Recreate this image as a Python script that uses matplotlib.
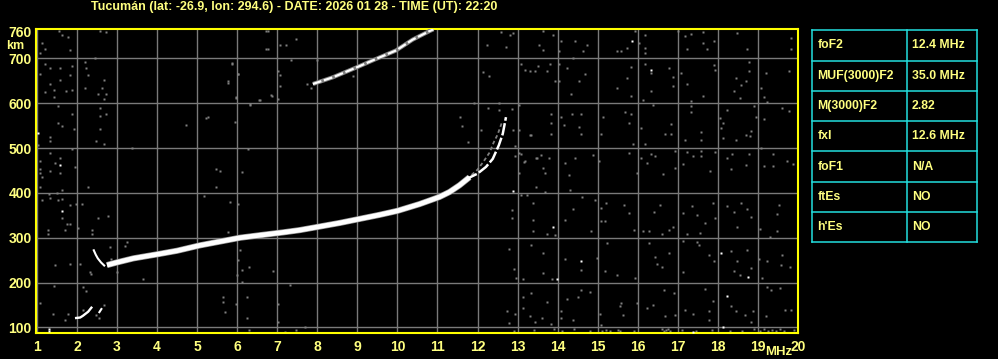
import matplotlib
matplotlib.use("Agg")
import matplotlib.pyplot as plt

# ---------------- data ----------------
title = "Tucumán (lat: -26.9, lon: 294.6) - DATE: 2026 01 28 - TIME (UT): 22:20"
x_ticks = list(range(1, 21))
y_ticks = [100, 200, 300, 400, 500, 600, 700, 760]

# F2 trace (white)
f2_f = [2.75, 3.0, 3.41, 4.0, 4.5, 5.07, 5.6, 6.07, 6.6, 7.15, 7.56, 8.0, 8.56, 9.0, 9.55, 10.0, 10.55, 11.05, 11.3, 11.55, 11.8]
f2_h = [239, 245, 254, 263, 271, 283, 292, 300, 306, 312, 317, 324, 333, 341, 351, 360, 375, 391, 402, 417, 435]
cusp_f = [11.7, 12.0, 12.21, 12.38, 12.53, 12.63, 12.71]
cusp_h = [430, 443, 458, 476, 506, 532, 569]
# extraordinary trace (grey)
xtr_f = [11.85, 12.0, 12.15, 12.3, 12.4, 12.5, 12.6]
xtr_h = [440, 452, 470, 490, 512, 530, 555]
# hook at start of F trace
hook_f = [2.42, 2.47, 2.52, 2.6, 2.68]
hook_h = [272, 262, 254, 245, 238]
# E-layer traces
e_f = [1.98, 2.08, 2.15, 2.28, 2.36]
e_h = [121, 122, 126, 135, 144]
e2_f = [2.56, 2.61]
e2_h = [134, 141]
# second hop trace
hop2_f = [7.89, 8.39, 8.98, 9.47, 9.97, 10.38, 10.8, 10.9]
hop2_h = [643, 658, 680, 699, 718, 742, 761, 765]

# noise specks (grey)
noise_f = [12.88, 13.63, 13.88, 13.53, 13.63, 14.08, 14.44, 14.73, 14.63, 14.38, 14.03, 15.48, 15.58, 15.73, 15.94,
           16.18, 16.18, 16.18, 16.03, 17.0, 17.34, 17.63, 17.19, 17.63, 17.9, 17.23, 17.73, 18.48, 18.73, 19.83, 19.83,
           13.08, 13.19, 13.3, 13.44, 13.5, 13.73, 13.8, 13.94, 14.03, 14.03, 14.23, 14.54, 14.69, 14.33, 15.48, 15.73,
           15.83, 15.83, 16.19, 16.33, 16.33, 16.13, 16.78, 16.89, 16.89, 17.07, 17.23, 17.34, 17.63, 17.9, 17.93, 18.44,
           18.58, 18.69, 18.78, 18.78, 18.4, 18.55, 19.08, 19.19, 19.15, 19.23, 19.78,
           12.94, 13.03, 13.03, 13.34, 13.83, 13.83, 13.83, 14.08, 14.15, 14.36, 14.58, 14.54, 14.59, 15.13, 15.08, 15.67,
           15.78, 15.83, 15.89, 16.08, 16.19, 16.38, 16.69, 16.83, 16.83, 17.19, 17.33, 17.33, 17.59, 17.59, 18.05, 18.13,
           18.07, 18.13, 18.23, 18.44, 18.69, 18.8, 18.83, 18.94, 18.9, 19.15, 19.59, 19.78,
           12.94, 13.08, 13.19, 13.48, 13.58, 13.79, 13.63, 13.69, 14.19, 14.28, 14.44, 14.89, 15.04, 15.78, 15.99, 16.08,
           16.23, 16.33, 16.44, 16.63, 16.92, 16.94, 17.13, 17.22, 17.39, 17.57, 17.57, 17.8, 17.94, 18.22, 18.36, 18.32,
           18.78, 18.69, 19.07, 19.38, 19.38, 19.15, 19.73, 19.88,
           13.69, 13.38, 13.38, 13.47, 13.08, 13.23, 12.86, 12.86, 13.38, 13.94, 13.73, 14.32, 14.38, 14.19, 14.61, 14.83,
           14.94, 15.08, 15.21, 15.08, 15.19, 15.65, 15.78, 15.9, 16.13, 16.28, 16.4, 16.55, 16.61, 16.78, 16.89, 17.13,
           17.36, 17.49, 17.69, 17.88, 17.94, 17.23, 17.55, 18.23, 18.4, 18.48, 18.58, 18.73, 18.83, 19.05, 19.3, 19.48,
           19.53, 19.47,
           12.78, 12.9, 12.95, 13.13, 13.33, 13.63, 13.63, 13.86, 14.19, 14.58, 14.98, 15.23, 15.19, 15.48, 15.94, 16.28,
           16.44, 16.48, 16.61, 16.78, 17.13, 17.13, 17.49, 17.53, 17.77, 17.9, 18.32, 18.48, 18.4, 18.55, 18.72, 18.82,
           19.03, 19.23, 19.1, 19.58, 19.61, 19.8,
           12.74, 12.78, 12.94, 13.13, 13.13, 13.33, 13.3, 13.44, 13.61, 13.73, 13.83, 14.08, 14.08, 14.23, 14.5, 14.59,
           14.38, 14.8, 15.05, 15.58, 15.55, 15.63, 15.07, 15.98, 16.23, 16.38, 16.65, 16.9, 16.69, 16.93, 17.17, 17.38,
           17.67, 17.77, 17.77, 17.88, 18.33, 18.46, 18.67, 18.88, 18.83, 19.23, 19.21, 19.33, 19.54, 19.67, 19.82,
           13.4, 14.1, 14.8, 15.2, 15.55, 16.6, 16.65, 16.7, 16.75, 16.8, 17.1, 17.45, 17.85, 18.3, 18.9, 19.05, 19.15,
           19.25, 19.35, 19.45, 19.55, 19.65, 19.9, 12.9, 13.9, 15.9, 14.4, 18.6, 15.1, 15.3, 15.5,
           1.13, 1.08, 1.19, 1.63, 1.78, 1.83, 1.56, 2.58, 2.73, 1.19, 1.33, 1.58, 1.08, 1.58, 1.83, 1.88, 2.19, 2.23,
           2.28, 1.33, 1.43, 1.19, 1.73, 1.88, 2.19, 2.53, 2.63, 2.73, 2.68, 2.68, 1.43, 2.46, 1.53, 1.88, 2.58, 2.58,
           2.73, 1.53, 1.63, 1.92, 2.58, 1.33, 1.33, 2.48, 2.68, 1.03, 1.88, 3.38, 1.33, 1.58, 1.08, 1.46, 1.94, 1.08,
           1.33, 1.58, 1.08, 1.13, 1.08, 2.28, 1.29, 1.5, 1.63, 1.13, 1.33, 1.53, 1.63, 1.83, 1.98, 2.13, 1.63, 1.75,
           1.83, 2.03, 1.28, 1.69, 2.38, 2.38, 1.28, 2.53, 2.78,
           4.73, 5.23, 5.94, 5.88, 6.03, 5.78, 5.98, 6.33, 6.55, 6.73, 6.84, 6.73, 6.28, 5.48, 5.58, 6.13, 5.48, 5.18,
           5.83, 6.03, 5.78,
           6.07, 6.03, 6.3, 6.13, 6.0, 6.13, 6.9, 7.33, 5.64, 5.64, 5.7, 5.97, 6.24, 6.24, 6.3, 7.02, 7.02, 7.19, 7.48,
           7.69, 3.66, 1.46, 1.07, 1.4, 1.42, 3.25, 3.21, 2.83,
           2.15, 2.48, 2.56, 2.68, 1.78, 1.7, 2.15, 2.23, 2.32, 2.36, 3.01, 1.82, 2.07, 2.86,
           6.77, 6.77, 7.08, 7.22, 7.47, 7.35, 7.01, 7.06, 7.06, 7.01, 6.87, 6.56, 6.33, 5.77, 6.01, 5.88, 5.97, 5.26,
           8.89, 7.74, 7.84, 8.0, 12.24, 12.14, 12.28, 12.53, 12.86, 12.58, 12.81, 12.71,
           11.92, 12.25, 12.54, 12.09, 11.75, 11.57, 11.62, 12.88, 13.04, 13.17, 13.31, 13.46, 13.04]
noise_h = [757, 761, 752, 730, 719, 739, 739, 729, 717, 702, 717, 716, 717, 724, 761,
           752, 723, 712, 734, 761, 754, 760, 749, 734, 738, 721, 721, 756, 721, 745, 721,
           688, 675, 671, 673, 684, 671, 688, 649, 650, 687, 679, 650, 665, 621, 634, 656,
           682, 616, 687, 667, 628, 608, 679, 658, 638, 667, 643, 606, 616, 686, 675, 656,
           641, 649, 693, 671, 627, 612, 634, 667, 613, 603, 671,
           504, 596, 541, 529, 576, 556, 532, 569, 551, 575, 576, 547, 532, 569, 532, 581,
           556, 576, 510, 544, 510, 596, 532, 554, 532, 517, 593, 581, 536, 519, 567, 556,
           545, 523, 586, 519, 530, 527, 538, 569, 593, 564, 590, 582,
           482, 487, 471, 478, 484, 478, 456, 445, 467, 441, 478, 484, 471, 490, 445, 478,
           467, 487, 482, 443, 493, 456, 464, 492, 482, 493, 482, 449, 492, 477, 487, 453,
           487, 462, 501, 486, 460, 460, 471, 465,
           401, 377, 340, 414, 396, 396, 362, 344, 314, 306, 308, 407, 364, 340, 390, 314,
           384, 367, 377, 338, 338, 373, 355, 318, 315, 314, 358, 373, 308, 318, 325, 355,
           370, 351, 332, 377, 344, 308, 310, 370, 358, 323, 377, 364, 347, 320, 301, 352,
           373, 314,
           275, 231, 211, 208, 283, 266, 221, 208, 253, 229, 254, 288, 226, 216, 210, 288,
           258, 241, 234, 266, 293, 223, 290, 284, 262, 249, 271, 249, 225, 216, 273, 232,
           253, 249, 211, 240, 262, 234,
           137, 110, 130, 167, 143, 177, 125, 112, 121, 156, 107, 137, 122, 164, 167, 184,
           117, 180, 130, 154, 147, 127, 106, 154, 143, 150, 184, 177, 125, 128, 139, 130,
           186, 137, 117, 158, 147, 136, 128, 136, 113, 191, 125, 184, 188, 139, 139,
           95, 93, 92, 95, 93, 96, 92, 94, 97, 92, 94, 92, 95, 93, 96, 93, 96,
           92, 95, 93, 96, 92, 94, 92, 96, 93, 96, 92, 93, 91, 94,
           735, 713, 720, 753, 747, 718, 762, 762, 759, 688, 679, 679, 666, 653, 663, 683, 693, 679,
           662, 644, 630, 626, 627, 630, 635, 621, 635, 621, 653, 609, 613, 700, 594, 577, 590, 572,
           577, 555, 550, 542, 542, 524, 515, 515, 510, 507, 498, 500, 488, 479, 472, 466, 457, 453,
           448, 444, 444, 435, 414, 414, 398, 399, 407, 384, 389, 384, 387, 374, 376, 376, 344, 331,
           331, 322, 318, 318, 318, 309, 309, 344, 348,
           551, 568, 559, 688, 666, 646, 613, 598, 607, 722, 618, 762, 498, 453, 448, 446, 414, 393,
           379, 376, 313,
           272, 251, 235, 228, 216, 201, 226, 194, 168, 157, 135, 152, 168, 122, 95, 152, 113, 90, 94,
           102, 208, 239, 155, 130, 192, 291, 281, 280,
           138, 127, 122, 149, 130, 116, 190, 181, 223, 219, 223, 242, 242, 253,
           761, 721, 730, 730, 743, 697, 673, 662, 638, 609, 616, 607, 596, 649, 666, 690, 611, 570,
           660, 643, 635, 697, 729, 669, 660, 600, 587, 759, 753, 726,
           600, 590, 584, 540, 514, 569, 550, 540, 488, 470, 529, 477, 444]

# bright specks (white)
speck_f = [15.86, 16.33, 12.88, 13.88, 13.98, 14.58, 18.08, 18.76, 18.23, 18.13, 17.38, 1.03, 1.58, 1.63, 1.31, 1.31]
speck_h = [739, 675, 404, 324, 208, 249, 266, 212, 169, 100, 90, 533, 463, 359, 97, 92]

# parameter table
param_names = ["foF2", "MUF(3000)F2", "M(3000)F2", "fxI", "foF1", "ftEs", "h'Es"]
param_values = ["12.4 MHz", "35.0 MHz", "2.82", "12.6 MHz", "N/A", "NO", "NO"]

# ---------------- style ----------------
W, H = 998, 359
BG = "black"
YEL = "#ffff00"
TXT = "#ffff80"
GRID = "#7a7a7a"
CYAN = "#22dede"
FONT = ["Liberation Sans Narrow", "Liberation Sans", "DejaVu Sans"]

fig = plt.figure(figsize=(W / 100, H / 100), dpi=100, facecolor=BG)

def fx(px):
    return px / W

def fy(py):
    return 1 - py / H

L, R, T, B = 35.7, 798.0, 29.3, 333.0
ax = fig.add_axes([fx(L), fy(B), fx(R) - fx(L), fy(T) - fy(B)], facecolor=BG)
ax.set_xlim(0.97, 20)
ax.set_ylim(87.5, 765)

for s in ax.spines.values():
    s.set_color(YEL)
    s.set_linewidth(1.5)

ax.set_xticks(x_ticks)
ax.set_yticks(y_ticks)
ax.set_xticklabels([str(v) for v in x_ticks])
ax.set_yticklabels([str(v) for v in y_ticks])
ax.tick_params(length=0, colors=TXT, labelsize=10)
ax.tick_params(axis="x", pad=5)
ax.tick_params(axis="y", pad=3)
for lab in ax.get_xticklabels() + ax.get_yticklabels():
    lab.set_fontweight("bold")
    lab.set_family(FONT)
    lab.set_color(TXT)

for v in x_ticks:
    ax.axvline(v, color=GRID, lw=1.0, zorder=1)
for v in y_ticks[:-1]:
    ax.axhline(v, color=GRID, lw=1.0, zorder=1)

# noise
ax.plot(noise_f, noise_h, ls="none", marker="s", ms=1.7, mfc="#808080", mec="none", zorder=2)
ax.plot(speck_f, speck_h, ls="none", marker="s", ms=1.6, mfc="white", mec="none", zorder=3)

# traces
ax.plot(xtr_f, xtr_h, color="#808080", lw=1.3, ls=(0, (2, 1.5)), zorder=3)
ax.plot(hop2_f, hop2_h, color="#808080", lw=3.0, zorder=3, solid_capstyle="butt")
ax.plot(hop2_f, hop2_h, color="white", lw=1.6, ls=(0, (4, 1.2)), zorder=4)
ax.plot(f2_f, f2_h, color="#9a9a9a", lw=4.4, zorder=3, solid_capstyle="butt")
ax.plot(f2_f, f2_h, color="white", lw=3.4, zorder=4, solid_capstyle="butt")
ax.plot(cusp_f, cusp_h, color="white", lw=1.8, zorder=4, ls=(0, (5, 1)))
ax.plot(hook_f, hook_h, color="white", lw=1.5, zorder=4)
ax.plot(e_f, e_h, color="white", lw=1.7, zorder=4)
ax.plot(e2_f, e2_h, color="white", lw=1.5, zorder=4)

# texts
fig.text(fx(91), fy(7), title, color=TXT, fontsize=9.0, fontweight="bold",
         family=FONT, ha="left", va="center")
fig.text(fx(6), fy(46), "km", color=TXT, fontsize=9.0, fontweight="bold",
         family=FONT, ha="left", va="center")
fig.text(fx(765), fy(352), "MHz", color=TXT, fontsize=9.5, fontweight="bold",
         family=FONT, ha="left", va="center")

# table
TL, TR, TT, TB = 812.0, 977.0, 30.3, 242.3
tax = fig.add_axes([fx(TL), fy(TB), fx(TR) - fx(TL), fy(TT) - fy(TB)], facecolor=BG)
tax.set_xlim(TL, TR)
tax.set_ylim(TB, TT)
tax.axis("off")
n = len(param_names)
rh = (TB - TT) / n
col = 907.0
for i in range(n + 1):
    tax.plot([TL, TR], [TT + i * rh, TT + i * rh], color=CYAN, lw=1.1, clip_on=False)
for xx in (TL, col, TR):
    tax.plot([xx, xx], [TT, TB], color=CYAN, lw=1.1, clip_on=False)
for i, (nm, val) in enumerate(zip(param_names, param_values)):
    yc = TT + (i + 0.5) * rh
    tax.text(817.5, yc, nm, color=TXT, fontsize=8.8, fontweight="bold", family=FONT,
             ha="left", va="center")
    tax.text(912, yc, val, color=TXT, fontsize=8.8, fontweight="bold", family=FONT,
             ha="left", va="center")

fig.savefig("out.png", dpi=100, facecolor=BG)
